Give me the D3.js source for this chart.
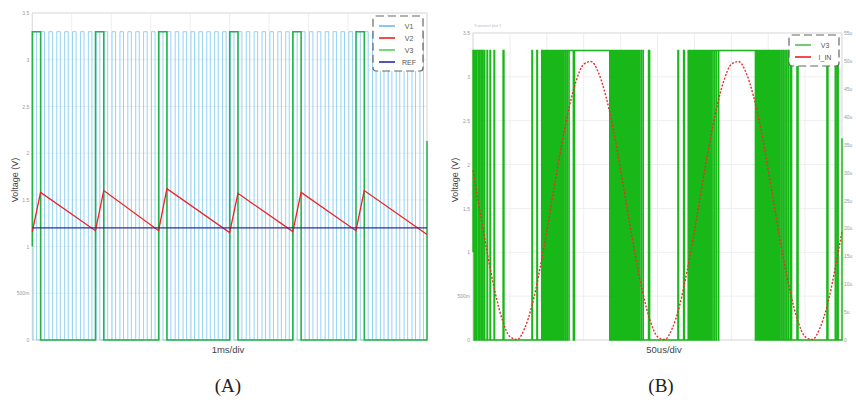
<!DOCTYPE html>
<html>
<head>
<meta charset="utf-8">
<script src="https://cdn.jsdelivr.net/npm/d3@7"></script>
<style>
  body { margin: 0; background: #fff; }
</style>
</head>
<body>
<div id="chart"></div>
<script>
// ---------- panel A (time in ms, volts) ----------
const v1Pulses = [
  [0.02,0.11],[0.22,0.31],[0.42,0.51],[0.62,0.71],[0.82,0.91],[1.02,1.11],[1.22,1.31],[1.42,1.51],[1.62,1.71],[1.82,1.91],
  [2.02,2.11],[2.22,2.31],[2.42,2.51],[2.62,2.71],[2.82,2.91],[3.02,3.11],[3.22,3.31],[3.42,3.51],[3.62,3.71],[3.82,3.91],
  [4.02,4.11],[4.22,4.31],[4.42,4.51],[4.62,4.71],[4.82,4.91],[5.02,5.11],[5.22,5.31],[5.42,5.51],[5.62,5.71],[5.82,5.91],
  [6.02,6.11],[6.22,6.31],[6.42,6.51],[6.62,6.71],[6.82,6.91],[7.02,7.11],[7.22,7.31],[7.42,7.51],[7.62,7.71],[7.82,7.91],
  [8.02,8.11],[8.22,8.31],[8.42,8.51],[8.62,8.71],[8.82,8.91],[9.02,9.11],[9.22,9.31],[9.42,9.51],[9.62,9.71],[9.82,9.91]
];
const v3APulses = [[0,0.21],[1.6,1.81],[3.2,3.41],[5.0,5.21],[6.6,6.81],[8.2,8.41]];
const v3AStart = 1.0;
const v3AEnd = 2.13;
const v2Times  = [0, 0.21, 1.6, 1.81, 3.2, 3.41, 5.0, 5.21, 6.6, 6.81, 8.2, 8.41, 10];
const v2Values = [1.16, 1.58, 1.17, 1.6, 1.17, 1.62, 1.15, 1.57, 1.16, 1.58, 1.17, 1.6, 1.13];
const refLevel = 1.2;
const highLevel = 3.3;
const msTicks = [0,1,2,3,4,5,6,7,8,9,10];

// ---------- panel B (time in us) ----------
const v3BPulses = [
  [0,1.4],[2.4,4.1],[5.4,7.5],[8.8,10.8],[11.9,12.9],[14.9,16.0],[19.0,19.8],[23.0,23.8],[28.5,29.3],[40.7,42.0],
  [79.8,80.6],[86.5,87.4],[93.0,93.5],[95.0,95.7],[97.2,98.0],[99.4,100.3],[101.6,102.6],[103.8,104.9],[106.0,107.2],
  [108.2,109.5],[110.4,111.8],[112.6,114.1],[114.8,116.4],[117.0,118.7],[119.2,121.0],[121.4,123.3],[123.6,125.6],
  [125.8,127.8],[128.0,130.1],[130.3,135.9],[137.6,185.2],
  [186.0,187.6],[188.2,189.7],[190.4,191.8],[192.6,193.9],[194.8,196.0],[197.0,198.1],[199.2,200.1],[201.4,202.2],
  [203.6,204.3],[205.8,206.4],[208.0,208.5],[210.2,210.7],[212.4,212.8],[214.6,215.0],[216.8,217.2],[219.0,219.3],
  [221.2,221.5],[223.4,223.7],[225.6,225.9],[228.0,228.3],[230.5,230.8],[237.8,239.4],
  [277.6,278.6],[285.3,286.5],[291.5,292.0],[293.6,294.2],[295.7,296.4],[297.8,298.6],[299.9,300.8],[302.0,303.0],
  [304.1,305.2],[306.2,307.4],[308.3,309.6],[310.4,311.8],[312.5,314.0],[314.6,316.2],[316.7,318.4],[318.8,320.6],
  [320.9,322.8],[323.0,325.0],[325.1,327.2],[327.4,329.6],[329.9,332.4],[333.0,382.6],
  [383.4,385.1],[385.7,387.3],[388.0,389.5],[390.3,391.6],[392.6,393.8],[394.9,395.9],[397.2,398.1],[399.5,400.3],
  [401.8,402.5],[404.1,404.7],[406.4,406.9],[408.7,409.2],[411.0,411.4],[413.3,413.7],[415.6,415.9],[417.9,418.2],
  [420.2,420.5],[422.5,422.8],[424.8,425.1],[427.2,427.5],[429.8,430.1],[431.4,431.8],[438.9,440.5],
  [479.5,481.0],[490.8,491.8],[493.8,494.9]
];
const v3BStart = 1.0;
const v3BEnd = 2.3;
const iinTimes = [0,10,20,30,40,50,60,70,80,90,100,110,120,130,140,150,160,170,180,190,200,
  210,220,230,240,250,260,270,280,290,300,310,320,330,340,350,360,370,380,390,400,
  410,420,430,440,450,460,470,480,490,500];
// I_IN in uA
const iinValues = [30.4,22.6,15.1,8.5,3.5,0.6,0.1,2.1,6.2,12.3,19.5,27.4,34.9,41.5,46.5,49.4,49.9,47.9,43.7,37.8,30.5,
  22.7,15.1,8.5,3.5,0.6,0.1,2.1,6.2,12.3,19.5,27.4,34.9,41.5,46.5,49.4,49.9,47.9,43.7,37.8,30.5,
  22.7,15.1,8.5,3.5,0.6,0.1,2.1,6.2,12.3,19.5];
const usTicks = [0,50,100,150,200,250,300,350,400,450,500];
const currentTicks = [0,5,10,15,20,25,30,35,40,45,50,55];
const currentLabels = ["0","5u","10u","15u","20u","25u","30u","35u","40u","45u","50u","55u"];

const voltTicks = [0,0.5,1,1.5,2,2.5,3,3.5];
const voltLabels = ["0","500m","1","1.5","2","2.5","3","3.5"];

const width = 856, height = 403;
const font = "Liberation Sans, Arial, sans-serif";

const svg = d3.create("svg")
  .attr("width", width)
  .attr("height", height)
  .style("background", "#fff");

// pulse list -> step points
function stepPoints(pulses, hi, start, tEnd, end) {
  const pts = [[0, start]];
  pulses.forEach(([r, f]) => {
    if (r > 0) pts.push([r, 0]);
    pts.push([r, hi], [f, hi], [f, 0]);
  });
  pts.push([tEnd, 0]);
  if (end != null) pts.push([tEnd, end]);
  return pts;
}

function frame(g, x, y, xTicks) {
  const [x0, x1] = x.range();
  const [y0, y1] = y.range();
  g.append("g").selectAll("line.h")
    .data(voltTicks)
    .join("line")
    .attr("x1", x0).attr("x2", x1)
    .attr("y1", d => y(d)).attr("y2", d => y(d))
    .attr("stroke", "#eeeeee");
  g.append("g").selectAll("line.v")
    .data(xTicks)
    .join("line")
    .attr("x1", d => x(d)).attr("x2", d => x(d))
    .attr("y1", y0).attr("y2", y1)
    .attr("stroke", "#eeeeee");
  g.append("rect")
    .attr("x", x0).attr("y", y1)
    .attr("width", x1 - x0).attr("height", y0 - y1)
    .attr("fill", "none")
    .attr("stroke", "#dddddd");

  g.append("g")
    .attr("transform", `translate(${x0 - 2},0)`)
    .call(d3.axisLeft(y).tickValues(voltTicks).tickSize(0).tickPadding(1)
      .tickFormat((d, i) => voltLabels[i]))
    .call(a => a.select(".domain").remove())
    .call(a => a.selectAll("text")
      .attr("font-family", font).attr("font-size", 5).attr("fill", "#999"));
}

function legend(g, entries) {
  g.append("rect")
    .attr("x", 0).attr("y", 0)
    .attr("width", 50).attr("height", 12 * entries.length + 7)
    .attr("rx", 3)
    .attr("fill", "#fff")
    .attr("stroke", "#666")
    .attr("stroke-width", 1.2)
    .attr("stroke-dasharray", "8,4");
  const rows = g.selectAll("g.entry")
    .data(entries)
    .join("g")
    .attr("transform", (d, i) => `translate(0, ${10 + i * 12})`);
  rows.append("line")
    .attr("x1", 6).attr("x2", 22)
    .attr("stroke", d => d.color)
    .attr("stroke-width", 1.5);
  rows.append("text")
    .attr("x", 36).attr("y", 2.5)
    .attr("text-anchor", "middle")
    .attr("font-family", font).attr("font-size", 7)
    .attr("fill", "#555")
    .text(d => d.label);
}

// ================= panel A =================
const xA = d3.scaleLinear().domain([0, 10]).range([32.3, 427]);
const yA = d3.scaleLinear().domain([0, 3.5]).range([340, 13]);
const gA = svg.append("g");
frame(gA, xA, yA, msTicks);

const lineA = d3.line().x(d => xA(d[0])).y(d => yA(d[1]));

gA.append("path")
  .attr("d", lineA(stepPoints(v1Pulses, highLevel, 0, 10, null)))
  .attr("fill", "none")
  .attr("stroke", "#70c4ef")
  .attr("stroke-opacity", 0.75)
  .attr("stroke-width", 1);

gA.append("path")
  .attr("d", lineA(stepPoints(v3APulses, highLevel, v3AStart, 10, v3AEnd)))
  .attr("fill", "none")
  .attr("stroke", "#22b34a")
  .attr("stroke-width", 1.5);

gA.append("path")
  .attr("d", lineA(v2Times.map((t, i) => [t, v2Values[i]])))
  .attr("fill", "none")
  .attr("stroke", "#ee2222")
  .attr("stroke-width", 1.3);

gA.append("line")
  .attr("x1", xA(0)).attr("x2", xA(10))
  .attr("y1", yA(refLevel)).attr("y2", yA(refLevel))
  .attr("stroke", "#2e2e94")
  .attr("stroke-width", 1.2);

gA.append("g")
  .attr("transform", "translate(373,16)")
  .call(legend, [
    { label: "V1", color: "#66b3f5" },
    { label: "V2", color: "#ee1111" },
    { label: "V3", color: "#44cc55" },
    { label: "REF", color: "#1a1aa0" }
  ]);

gA.append("text")
  .attr("transform", "translate(18,180) rotate(-90)")
  .attr("text-anchor", "middle")
  .attr("font-family", font).attr("font-size", 9)
  .attr("fill", "#444")
  .text("Voltage (V)");

gA.append("text")
  .attr("x", 228).attr("y", 353)
  .attr("text-anchor", "middle")
  .attr("font-family", font).attr("font-size", 9.5)
  .attr("fill", "#444")
  .text("1ms/div");

// ================= panel B =================
const xB = d3.scaleLinear().domain([0, 500]).range([473, 842]);
const yB = d3.scaleLinear().domain([0, 3.5]).range([340, 33]);
const yI = d3.scaleLinear().domain([0, 55]).range([340, 33]);
const gB = svg.append("g");
frame(gB, xB, yB, usTicks);

gB.append("g")
  .attr("transform", "translate(844,0)")
  .call(d3.axisRight(yI).tickValues(currentTicks).tickSize(0).tickPadding(0)
    .tickFormat((d, i) => currentLabels[i]))
  .call(a => a.select(".domain").remove())
  .call(a => a.selectAll("text")
    .attr("font-family", font).attr("font-size", 5).attr("fill", "#999"));

gB.append("text")
  .attr("x", 474).attr("y", 27)
  .attr("font-family", font).attr("font-size", 4)
  .attr("fill", "#bbb")
  .text("Transient plot 1");

const lineB = d3.line().x(d => xB(d[0])).y(d => yB(d[1]));

gB.append("path")
  .attr("d", lineB(stepPoints(v3BPulses, highLevel, v3BStart, 500, v3BEnd)))
  .attr("fill", "none")
  .attr("stroke", "#00b000")
  .attr("stroke-opacity", 0.9)
  .attr("stroke-width", 1.4);

gB.append("path")
  .attr("d", d3.line()
    .x((d, i) => xB(iinTimes[i]))
    .y(d => yI(d))
    .curve(d3.curveMonotoneX)(iinValues))
  .attr("fill", "none")
  .attr("stroke", "#e8302a")
  .attr("stroke-width", 1.4)
  .attr("stroke-dasharray", "2,1.6");

gB.append("g")
  .attr("transform", "translate(789,35)")
  .call(legend, [
    { label: "V3", color: "#44bb44" },
    { label: "I_IN", color: "#ee1111" }
  ]);

gB.append("text")
  .attr("transform", "translate(458,180) rotate(-90)")
  .attr("text-anchor", "middle")
  .attr("font-family", font).attr("font-size", 9)
  .attr("fill", "#444")
  .text("Voltage (V)");

gB.append("text")
  .attr("x", 664).attr("y", 353)
  .attr("text-anchor", "middle")
  .attr("font-family", font).attr("font-size", 9.5)
  .attr("fill", "#444")
  .text("50us/div");

// captions
svg.selectAll("text.cap")
  .data([{ x: 228, t: "(A)" }, { x: 661, t: "(B)" }])
  .join("text")
  .attr("class", "cap")
  .attr("x", d => d.x).attr("y", 392)
  .attr("text-anchor", "middle")
  .attr("font-family", "Liberation Serif, DejaVu Serif, serif")
  .attr("font-size", 19)
  .attr("fill", "#222")
  .text(d => d.t);

document.getElementById("chart").appendChild(svg.node());
</script>
</body>
</html>
